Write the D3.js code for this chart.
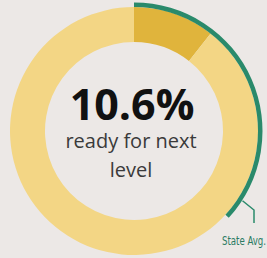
<!DOCTYPE html>
<html>
<head>
<meta charset="utf-8">
<script src="https://cdn.jsdelivr.net/npm/d3@7"></script>
<style>
  body { margin: 0; background: #ece8e6; }
  svg { display: block; }
</style>
</head>
<body>
<div class="plot"></div>
<script>
// values
var shares = [0.106, 0.894];          // ready, not ready
var shareColors = ["#e0b43c", "#f3d685"];
var stateAvg = 0.368;
var headline = "10.6%";
var caption = ["ready for next", "level"];
var avgLabel = "State Avg.";

var width = 267,
    height = 258,
    cx = 134,
    cy = 131,
    outerRadius = 124,
    innerRadius = 89;

var svg = d3.select(".plot").append("svg")
    .attr("width", width)
    .attr("height", height)
  .append("g")
    .attr("transform", "translate(" + cx + "," + cy + ")");

var pie = d3.pie().sort(null).value(function(d) { return d; });
var arc = d3.arc().innerRadius(innerRadius).outerRadius(outerRadius);

svg.selectAll(".slice")
    .data(pie(shares))
  .enter().append("path")
    .attr("class", "slice")
    .attr("d", arc)
    .style("fill", function(d, i) { return shareColors[i]; });

// state average arc, drawn just outside the ring
var angle = d3.scaleLinear().domain([0, 1]).range([0, 2 * Math.PI]);
var avgArc = d3.arc()
    .innerRadius(outerRadius)
    .outerRadius(outerRadius + 4.5)
    .startAngle(0)
    .endAngle(angle(stateAvg));

svg.append("path")
    .attr("d", avgArc())
    .style("fill", "#2a8a6b");

// leader line to the label
var a0 = angle(stateAvg) - 0.17;
var p0 = [Math.sin(a0) * (outerRadius + 5), -Math.cos(a0) * (outerRadius + 5)];
var p1 = [120, 79];
var p2 = [120, 92];
svg.append("path")
    .attr("d", d3.line()([p0, p1, p2]))
    .style("fill", "none")
    .style("stroke", "#2a8a6b")
    .style("stroke-width", 1.5);

// condensed label, squeezed to fit the space in the corner
svg.append("text")
    .attr("x", 88)
    .attr("y", 114)
    .attr("textLength", 44)
    .attr("lengthAdjust", "spacingAndGlyphs")
    .style("font-family", "'Liberation Sans Narrow', 'DejaVu Sans Condensed', sans-serif")
    .style("font-size", "12px")
    .style("fill", "#2a7a62")
    .text(avgLabel);

// centre text
svg.append("text")
    .attr("x", -2)
    .attr("y", -11)
    .attr("text-anchor", "middle")
    .style("font-family", "'Open Sans', sans-serif")
    .style("font-weight", "bold")
    .style("font-size", "43px")
    .style("fill", "#111")
    .text(headline);

svg.selectAll(".caption")
    .data(caption)
  .enter().append("text")
    .attr("class", "caption")
    .attr("x", -3)
    .attr("y", function(d, i) { return 17 + i * 29; })
    .attr("text-anchor", "middle")
    .style("font-family", "'Open Sans', sans-serif")
    .style("font-size", "20px")
    .style("fill", "#3a3a3a")
    .text(function(d) { return d; });
</script>
</body>
</html>
